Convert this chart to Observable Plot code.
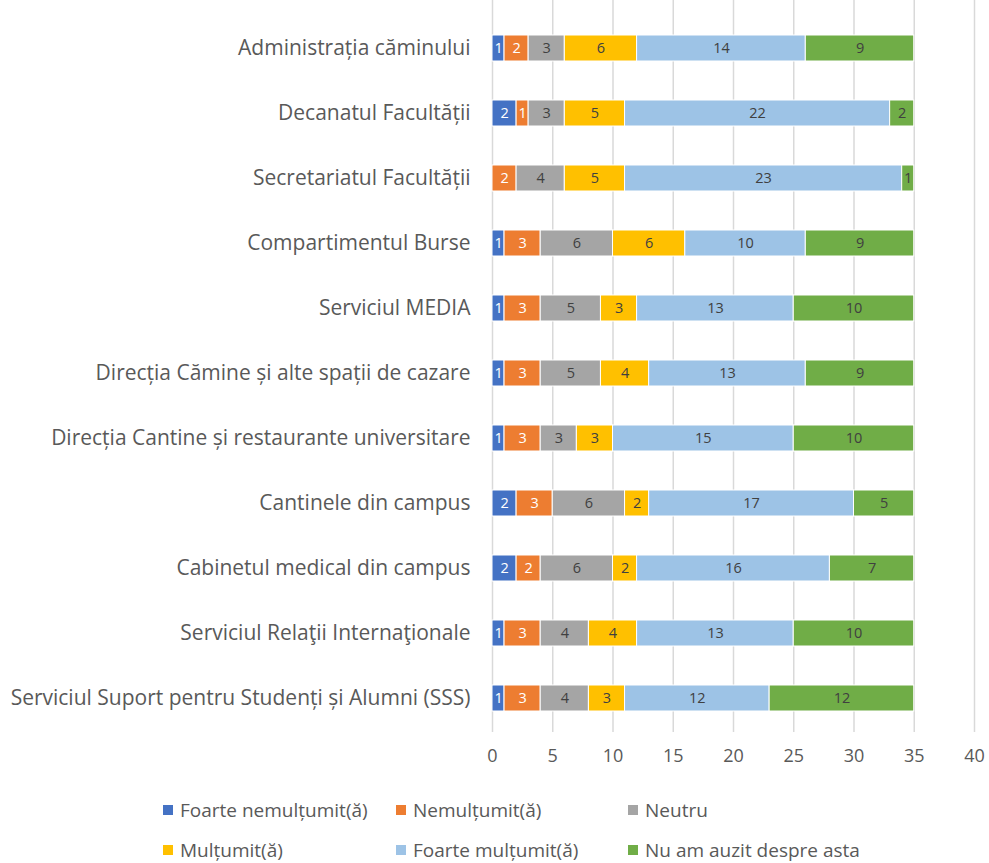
<!DOCTYPE html>
<html><head><meta charset="utf-8">
<script src="https://cdn.jsdelivr.net/npm/d3@7"></script>
<script src="https://cdn.jsdelivr.net/npm/@observablehq/plot@0.6"></script>
<style>
body{margin:0;background:#fff;font-family:"Open Sans",sans-serif}
#wrap{position:relative;width:989px;height:863px;overflow:hidden}
.leg{position:absolute;font-size:19px;color:#595959;white-space:nowrap;height:20px;line-height:20px}
.leg .sw{position:absolute;width:10px;height:10px;top:5px}
.leg .tx{position:absolute;top:0}
</style></head>
<body><div id="wrap"></div>
<script>
const categories = [
  "Administrația căminului",
  "Decanatul Facultății",
  "Secretariatul Facultății",
  "Compartimentul Burse",
  "Serviciul MEDIA",
  "Direcția Cămine și alte spații de cazare",
  "Direcția Cantine și restaurante universitare",
  "Cantinele din campus",
  "Cabinetul medical din campus",
  "Serviciul Relaţii Internaţionale",
  "Serviciul Suport pentru Studenți și Alumni (SSS)"
];
const seriesNames = ["Foarte nemulțumit(ă)", "Nemulțumit(ă)", "Neutru", "Mulțumit(ă)", "Foarte mulțumit(ă)", "Nu am auzit despre asta"];
const seriesColors = ["#4472C4", "#ED7D31", "#A5A5A5", "#FFC000", "#9DC3E6", "#70AD47"];
const labelColors = ["#ffffff", "#ffffff", "#404040", "#404040", "#404040", "#404040"];

const foarteNemultumit = [1, 2, 0, 1, 1, 1, 1, 2, 2, 1, 1];
const nemultumit       = [2, 1, 2, 3, 3, 3, 3, 3, 2, 3, 3];
const neutru           = [3, 3, 4, 6, 5, 5, 3, 6, 6, 4, 4];
const multumit         = [6, 5, 5, 6, 3, 4, 3, 2, 2, 4, 3];
const foarteMultumit   = [14, 22, 23, 10, 13, 13, 15, 17, 16, 13, 12];
const nuAmAuzit        = [9, 2, 1, 9, 10, 9, 10, 5, 7, 10, 12];
const xTicks = [0, 5, 10, 15, 20, 25, 30, 35, 40];

const seriesValues = [foarteNemultumit, nemultumit, neutru, multumit, foarteMultumit, nuAmAuzit];

// tidy stacked table built from the arrays
const rows = [];
categories.forEach((cat, i) => {
  let acc = 0;
  seriesValues.forEach((vals, s) => {
    const v = vals[i];
    rows.push({cat, series: seriesNames[s], value: v, x1: acc, x2: acc + v, mid: acc + v / 2, labelColor: labelColors[s]});
    acc += v;
  });
});
const nonZero = rows.filter(d => d.value > 0);

const W = 989, H = 778;
const chart = Plot.plot({
  width: W,
  height: H,
  marginLeft: 492,
  marginRight: 15,
  marginTop: 14,
  marginBottom: 46,
  style: {fontFamily: "'Open Sans', sans-serif", color: "#595959", background: "white"},
  x: {domain: [0, 40], ticks: xTicks},
  y: {domain: categories, paddingInner: 0.598, paddingOuter: 0.28},
  color: {domain: seriesNames, range: seriesColors},
  marks: [
    Plot.ruleX(xTicks, {stroke: "#d9d9d9", strokeWidth: 1.5, insetTop: -14}),
    Plot.barX(nonZero, {y: "cat", x1: "x1", x2: "x2", fill: "series", stroke: "white", strokeWidth: 1}),
    Plot.text(nonZero, {y: "cat", x: "mid", text: d => String(d.value), fill: "labelColor", fontSize: 14.5}),
    Plot.axisX({ticks: xTicks, tickSize: 0, tickPadding: 17, fontSize: 18, label: null}),
    Plot.axisY({tickSize: 0, tickPadding: 22, fontSize: 21, label: null})
  ]
});
const wrap = document.getElementById("wrap");
wrap.appendChild(chart);

// legend (HTML, below SVG)
const legPos = [
  [163, 810], [396, 810], [628, 810],
  [163, 850], [396, 850], [628, 850]
];
seriesNames.forEach((name, i) => {
  const el = document.createElement("div");
  el.className = "leg";
  el.style.left = legPos[i][0] + "px";
  el.style.top = (legPos[i][1] - 10) + "px";
  const sw = document.createElement("span");
  sw.className = "sw";
  sw.style.background = seriesColors[i];
  sw.style.left = "0px";
  const tx = document.createElement("span");
  tx.className = "tx";
  tx.style.left = "17px";
  tx.textContent = name;
  el.appendChild(sw);
  el.appendChild(tx);
  wrap.appendChild(el);
});
</script>
</body></html>
